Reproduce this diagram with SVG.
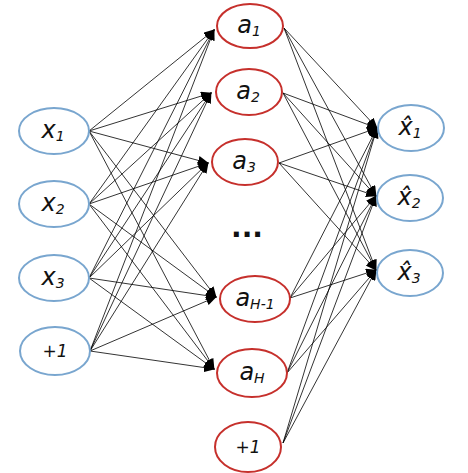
<svg xmlns="http://www.w3.org/2000/svg" width="468" height="473" viewBox="0 0 468 473">
<style>
.in{fill:#fff;stroke:#79a6cf;stroke-width:2}
.hid{fill:#fff;stroke:#c6302c;stroke-width:2}
.lbl{font-family:"DejaVu Sans",sans-serif;font-style:italic;font-size:24px;fill:#111;text-anchor:middle}
.sub{font-size:14px}
.one{font-family:"DejaVu Sans",sans-serif;font-style:italic;font-size:17px;fill:#111;text-anchor:middle}
#edges line{stroke:#000;stroke-width:0.8;marker-end:url(#ah)}
</style>
<defs>
<marker id="ah" markerUnits="userSpaceOnUse" markerWidth="11" markerHeight="9" refX="10" refY="4.5" orient="auto">
<path d="M0,0 L11,4.5 L0,9 z" fill="#000"/>
</marker>
</defs>
<rect width="468" height="473" fill="#fff"/>
<g id="edges">
<line x1="89" y1="131" x2="214" y2="30"/><line x1="89" y1="131" x2="211" y2="93"/><line x1="89" y1="131" x2="208" y2="163"/><line x1="89" y1="131" x2="216" y2="297"/><line x1="89" y1="131" x2="214" y2="369"/>
<line x1="89" y1="204" x2="214" y2="30"/><line x1="89" y1="204" x2="211" y2="93"/><line x1="89" y1="204" x2="208" y2="163"/><line x1="89" y1="204" x2="216" y2="297"/><line x1="89" y1="204" x2="214" y2="369"/>
<line x1="89" y1="278" x2="214" y2="30"/><line x1="89" y1="278" x2="211" y2="93"/><line x1="89" y1="278" x2="208" y2="163"/><line x1="89" y1="278" x2="216" y2="297"/><line x1="89" y1="278" x2="214" y2="369"/>
<line x1="90" y1="351" x2="214" y2="30"/><line x1="90" y1="351" x2="211" y2="93"/><line x1="90" y1="351" x2="208" y2="163"/><line x1="90" y1="351" x2="216" y2="297"/><line x1="90" y1="351" x2="214" y2="369"/>
<line x1="284" y1="28" x2="377" y2="128"/><line x1="284" y1="28" x2="376" y2="196"/><line x1="284" y1="28" x2="376" y2="270"/>
<line x1="283" y1="93" x2="377" y2="128"/><line x1="283" y1="93" x2="376" y2="196"/><line x1="283" y1="93" x2="376" y2="270"/>
<line x1="279" y1="163" x2="377" y2="128"/><line x1="279" y1="163" x2="376" y2="196"/><line x1="279" y1="163" x2="376" y2="270"/>
<line x1="290" y1="298" x2="377" y2="128"/><line x1="290" y1="298" x2="376" y2="196"/><line x1="290" y1="298" x2="376" y2="270"/>
<line x1="287" y1="373" x2="377" y2="128"/><line x1="287" y1="373" x2="376" y2="196"/><line x1="287" y1="373" x2="376" y2="270"/>
<line x1="283" y1="443" x2="377" y2="128"/><line x1="283" y1="443" x2="376" y2="196"/><line x1="283" y1="443" x2="376" y2="270"/>
</g>
<g id="x1"><ellipse class="in" cx="54" cy="131" rx="35" ry="23"/><text class="lbl" x="53" y="138">x<tspan class="sub" dy="3">1</tspan></text></g>
<g id="x2"><ellipse class="in" cx="54" cy="204" rx="35" ry="23"/><text class="lbl" x="53" y="211">x<tspan class="sub" dy="3">2</tspan></text></g>
<g id="x3"><ellipse class="in" cx="54" cy="278" rx="35" ry="23"/><text class="lbl" x="53" y="285">x<tspan class="sub" dy="3">3</tspan></text></g>
<g id="b1"><ellipse class="in" cx="55" cy="351" rx="35" ry="24"/><text class="one" x="55" y="357">+1</text></g>
<g id="a1"><ellipse class="hid" cx="250" cy="26" rx="33" ry="22"/><text class="lbl" x="249" y="33">a<tspan class="sub" dy="3">1</tspan></text></g>
<g id="a2"><ellipse class="hid" cx="249" cy="92" rx="33" ry="23"/><text class="lbl" x="248" y="99">a<tspan class="sub" dy="3">2</tspan></text></g>
<g id="a3"><ellipse class="hid" cx="245" cy="162" rx="33" ry="23"/><text class="lbl" x="244" y="169">a<tspan class="sub" dy="3">3</tspan></text></g>
<text id="dots" x="247" y="237" font-family="DejaVu Sans,sans-serif" font-size="28" font-weight="bold" text-anchor="middle" fill="#111">...</text>
<g id="aH1"><ellipse class="hid" cx="255" cy="299" rx="35" ry="23"/><text class="lbl" x="255" y="306">a<tspan class="sub" dy="3">H-1</tspan></text></g>
<g id="aH"><ellipse class="hid" cx="252" cy="373" rx="35" ry="24"/><text class="lbl" x="252" y="380">a<tspan class="sub" dy="3">H</tspan></text></g>
<g id="b2"><ellipse class="hid" cx="248" cy="447" rx="33" ry="25"/><text class="one" x="248" y="453">+1</text></g>
<g id="y1"><ellipse class="in" cx="411" cy="128" rx="33" ry="23"/><text class="lbl" x="410" y="135">x̂<tspan class="sub" dy="3">1</tspan></text></g>
<g id="y2"><ellipse class="in" cx="410" cy="198" rx="33" ry="23"/><text class="lbl" x="409" y="205">x̂<tspan class="sub" dy="3">2</tspan></text></g>
<g id="y3"><ellipse class="in" cx="410" cy="273" rx="33" ry="23"/><text class="lbl" x="409" y="280">x̂<tspan class="sub" dy="3">3</tspan></text></g>
</svg>
